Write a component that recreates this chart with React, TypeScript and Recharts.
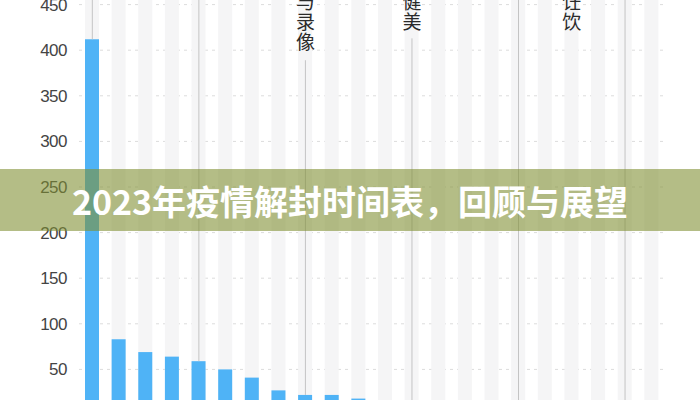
import React from "react";
import {
  BarChart,
  Bar,
  XAxis,
  YAxis,
  CartesianGrid,
  ReferenceLine,
  ReferenceDot,
} from "recharts";

const categories = [
  "c1", "c2", "c3", "c4", "c5", "c6", "c7", "c8", "c9", "c10", "c11",
  "c12", "c13", "c14", "c15", "c16", "c17", "c18", "c19", "c20", "c21", "c22",
];
const values = [412, 83, 69, 64, 59, 50, 41, 27, 22, 22, 18, 14, 12, 11, 10, 9, 8, 7, 6, 5, 4, 3];
const yTicks = [0, 50, 100, 150, 200, 250, 300, 350, 400, 450, 500];

// vertical marker lines: category index and the value where each line starts
const markerIdx = [0, 4, 8, 12, 16, 20];
const markerStart = [500, 500, 389, 413, 500, 500];

// stacked vertical labels above markers
const labelIdx = [8, 12, 18];
const labelTexts = ["与录像", "健美", "饪饮"];
const labelBottom = [398, 420, 420];

const title = "2023年疫情解封时间表，回顾与展望";

const data = categories.map((c, i) => ({ name: c, value: values[i] }));

const VerticalLabel = (text: string) => (props: any) => {
  const { cx, cy } = props;
  const chars = Array.from(text);
  const pitch = 20;
  const n = chars.length;
  return (
    <text
      x={cx}
      y={cy}
      textAnchor="middle"
      fill="#2a2a2a"
      fontSize={19}
      fontFamily="'Noto Sans CJK SC', sans-serif"
    >
      {chars.map((ch, k) => (
        <tspan key={k} x={cx} y={cy - 3 - (n - 1 - k) * pitch}>
          {ch}
        </tspan>
      ))}
    </text>
  );
};

export default function App() {
  return (
    <div
      style={{
        position: "fixed",
        left: 0,
        top: 0,
        width: 700,
        height: 400,
        overflow: "hidden",
        background: "#ffffff",
      }}
    >
      <div style={{ position: "absolute", left: 0, top: -141 }}>
        <BarChart
          width={700}
          height={600}
          data={data}
          margin={{ top: 100, right: 35, bottom: 44, left: 0 }}
          barSize={14}
        >
          <CartesianGrid
            vertical={false}
            stroke="#dcdcdc"
            strokeDasharray="3 4"
          />
          <XAxis dataKey="name" hide />
          <YAxis
            domain={[0, 500]}
            ticks={yTicks}
            width={79}
            tickLine={false}
            axisLine={false}
            tickMargin={6}
            tick={{
              fill: "#444",
              fontSize: 17,
              fontFamily: "'Liberation Sans', Arial, sans-serif",
              letterSpacing: -0.5,
            }}
          />
          <Bar
            dataKey="value"
            fill="#4fb3f6"
            background={{ fill: "#f5f5f6" }}
            isAnimationActive={false}
          />
          {markerIdx.map((ci, k) => (
            <ReferenceLine
              key={"m" + k}
              segment={[
                { x: categories[ci], y: markerStart[k] },
                { x: categories[ci], y: values[ci] },
              ]}
              stroke="#c4c4c4"
              strokeWidth={1}
            />
          ))}
          {labelIdx.map((ci, k) => (
            <ReferenceDot
              key={"l" + k}
              x={categories[ci]}
              y={labelBottom[k]}
              r={0}
              shape={VerticalLabel(labelTexts[k])}
            />
          ))}
        </BarChart>
      </div>
      <div
        style={{
          position: "absolute",
          left: 0,
          top: 169,
          width: 700,
          height: 62,
          background: "rgba(128,143,50,0.59)",
          display: "flex",
          alignItems: "center",
          justifyContent: "center",
          color: "#ffffff",
          fontFamily: "'Noto Sans CJK SC', sans-serif",
          fontWeight: 700,
          fontSize: 34,
          whiteSpace: "nowrap",
        }}
      >
        {title}
      </div>
    </div>
  );
}
